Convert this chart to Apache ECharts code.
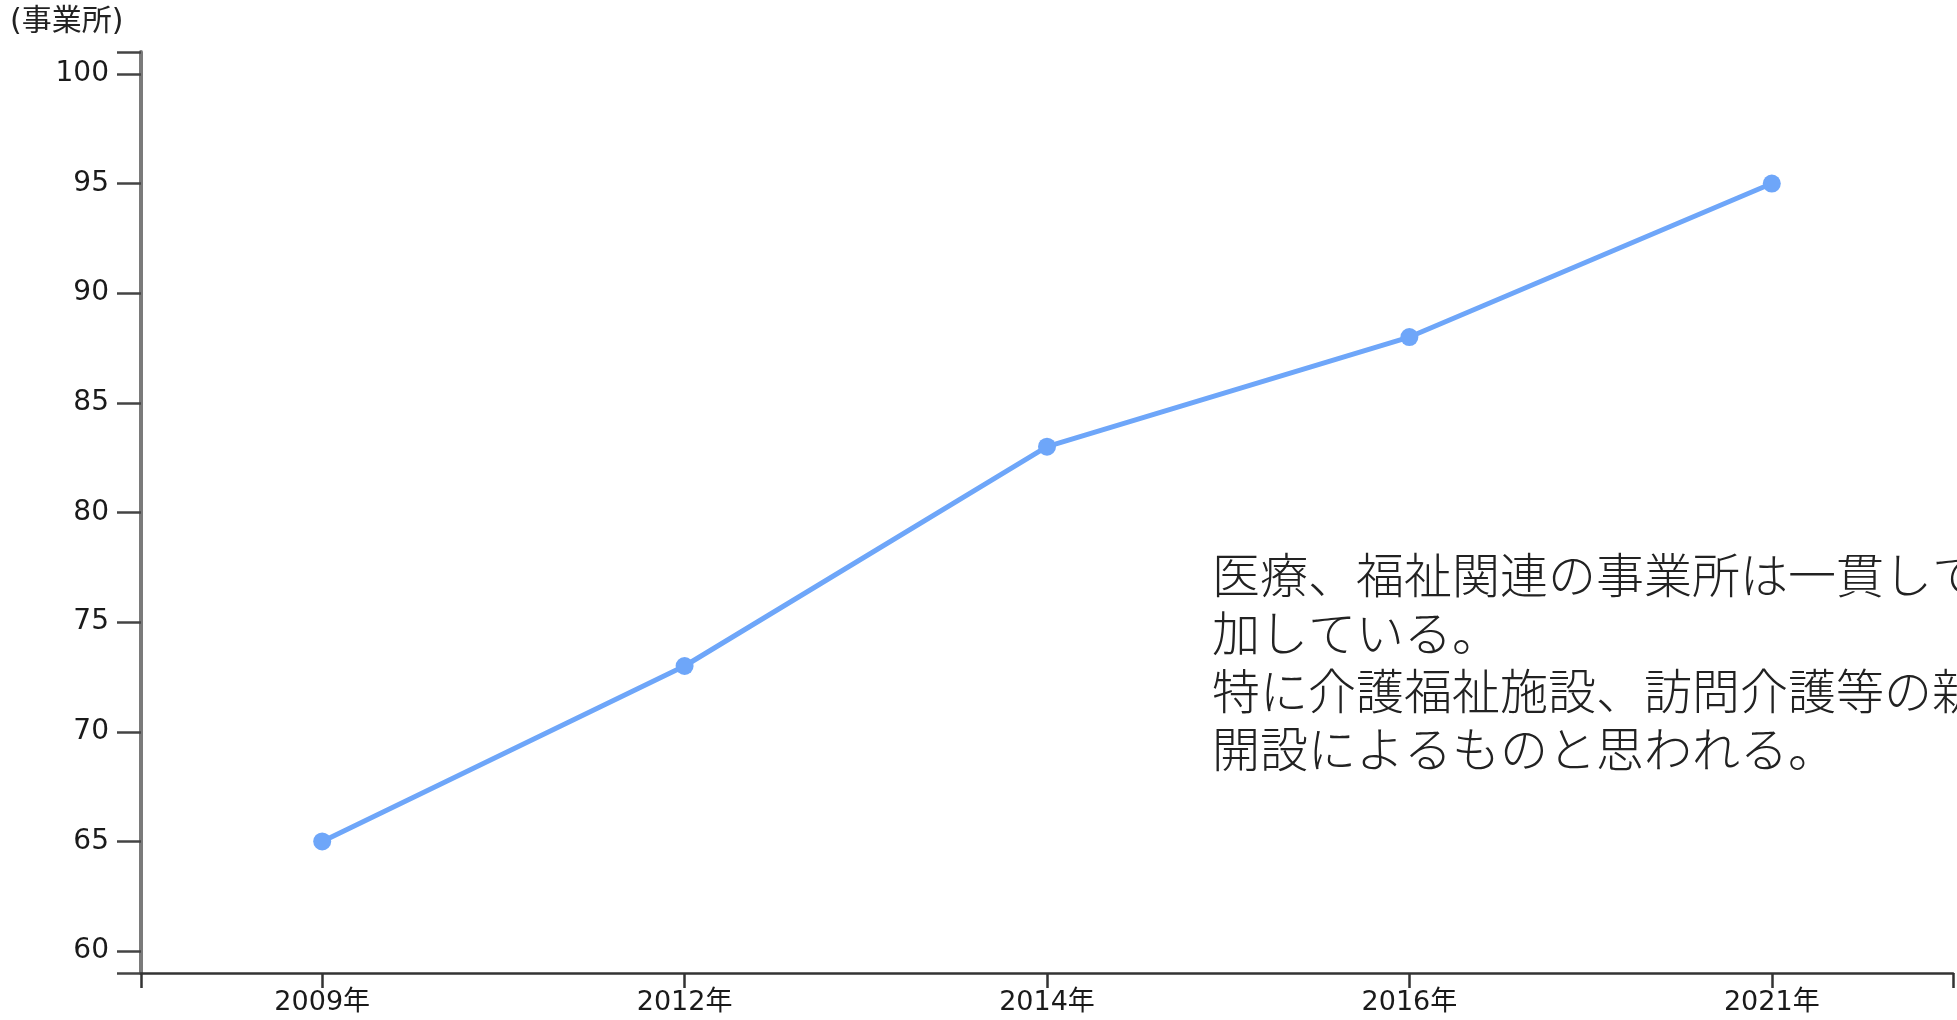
<!DOCTYPE html>
<html>
<head>
<meta charset="utf-8">
<script src="https://cdn.jsdelivr.net/npm/echarts@6/dist/echarts.min.js"></script>
<style>
  html, body { margin: 0; padding: 0; background: #fff; }
  #chart { width: 1957px; height: 1020px; }
</style>
</head>
<body>
<div id="chart"></div>
<script>
  // 年ごとの事業所数
  var years = ['2009年', '2012年', '2014年', '2016年', '2021年'];
  var offices = [65, 73, 83, 88, 95];
  var yTicks = [60, 65, 70, 75, 80, 85, 90, 95, 100];
  var unitLabel = '(事業所)';
  var note = '医療、福祉関連の事業所は一貫して増\n加している。\n特に介護福祉施設、訪問介護等の新規\n開設によるものと思われる。';

  var labelFont = "'DejaVu Sans', 'Noto Sans CJK JP', sans-serif";
  var points = offices.map(function (v, i) { return [i, v]; });
  var xIdx = years.map(function (y, i) { return i; });

  var chart = echarts.init(document.getElementById('chart'));
  chart.setOption({
    backgroundColor: '#fff',
    animation: false,
    grid: { left: 141, right: 4, top: 52, bottom: 47, containLabel: false },
    xAxis: {
      type: 'value',
      min: -0.5,
      max: years.length - 0.5,
      splitLine: { show: false },
      axisLine: { onZero: false, lineStyle: { color: '#333', width: 2.5 } },
      axisTick: {
        length: 15,
        customValues: [-0.5].concat(xIdx, [years.length - 0.5]),
        lineStyle: { color: '#333', width: 2.5 }
      },
      axisLabel: {
        customValues: xIdx,
        formatter: function (v) { return years[Math.round(v)]; },
        color: '#1a1a1a',
        fontSize: 27,
        fontFamily: labelFont,
        margin: 16
      }
    },
    yAxis: {
      type: 'value',
      min: 59,
      max: 101,
      splitLine: { show: false },
      axisLine: { show: true, onZero: false, lineStyle: { color: '#7a7a7a', width: 4 } },
      axisTick: {
        show: true,
        length: 24,
        customValues: [59].concat(yTicks, [101]),
        lineStyle: { color: '#444', width: 2.5 }
      },
      axisLabel: {
        customValues: yTicks,
        color: '#1a1a1a',
        fontSize: 28,
        fontFamily: labelFont,
        margin: 32
      }
    },
    graphic: [
      {
        type: 'text', left: 10, top: 7,
        style: { text: unitLabel, font: "30px 'DejaVu Sans', 'Noto Sans CJK JP'", fill: '#222' }
      },
      {
        type: 'text', left: 1212, top: 546,
        style: {
          text: note,
          font: "300 48px 'Noto Sans CJK JP'",
          lineHeight: 58,
          fill: '#222'
        }
      }
    ],
    series: [{
      type: 'line',
      data: points,
      symbol: 'circle',
      symbolSize: 18,
      lineStyle: { color: '#6ea6f9', width: 5 },
      itemStyle: { color: '#6ea6f9' }
    }]
  });
</script>
</body>
</html>
